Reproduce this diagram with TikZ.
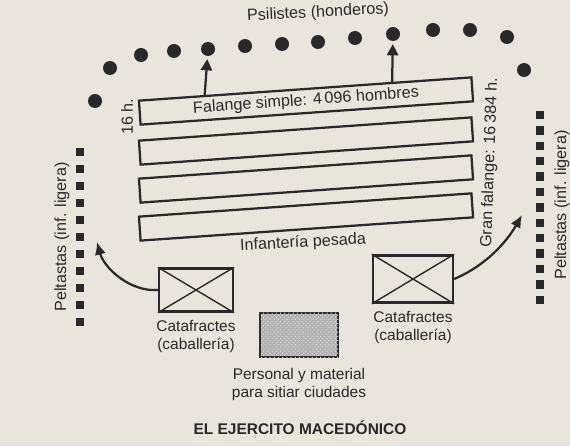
\documentclass[tikz,border=0pt]{standalone}
\usepackage{fontspec}
\setmainfont{Liberation Sans}
\usetikzlibrary{positioning,arrows.meta,calc,patterns}
\definecolor{paper}{RGB}{233,229,220}
\definecolor{ink}{RGB}{42,40,42}

\begin{document}
\begin{tikzpicture}[
    x=0.025cm, y=-0.025cm,
    every node/.style={text=ink, font=\fontsize{11.5}{13}\selectfont},
    slinger/.style={circle, fill=ink, inner sep=0pt, minimum size=0.35cm},
    peltast/.style={rectangle, fill=ink, inner sep=0pt, minimum size=0.21cm},
    bar/.style={draw=ink, line width=1.6pt, minimum width=8.33cm, minimum height=0.6cm, inner sep=0pt, rotate=4},
    cavalry/.style={draw=ink, line width=1.6pt, inner sep=0pt, minimum width=1.85cm, minimum height=1.08cm},
    siege/.style={draw=ink, line width=1.6pt, fill=gray!60, inner sep=0pt, minimum width=1.95cm, minimum height=1.1cm,
                  postaction={pattern=crosshatch dots, pattern color=gray!25}},
    caption/.style={align=center, inner sep=1pt, font=\fontsize{11}{13}\selectfont},
    up arrow/.style={draw=ink, line width=1.6pt, -{Triangle[length=8pt,width=8pt]}, shorten >=2pt},
    side arrow/.style={draw=ink, line width=1.6pt, -{Latex[length=9pt,width=8pt]}}
    ]
    \useasboundingbox[fill=paper] (0,0) rectangle (570,446);

    %% Psilistes (slingers)
    \node[rotate=3] (psi) at (318,13) {Psilistes (honderos)};
    \foreach \i/\x/\y in {1/95/101, 2/110/68, 3/141/55, 4/174/51, 5/208/49, 6/245/46, 7/282/44,
                          8/318/42, 9/355/38, 10/393/34, 11/433/30, 12/470/30, 13/507/37, 14/524/70}
        \node[slinger] (d\i) at (\x,\y) {};

    %% Heavy infantry: the phalanx
    \node[bar] (b1) at (306,101) {};
    \node[rotate=4] (fal) at (b1.center) {Falange simple: 4\,096 hombres};
    \node[bar] (b2) at (306,141) {};
    \node[bar] (b3) at (306,179) {};
    \node[bar] (b4) at (306,217) {};
    \node[rotate=3] (inf) at (303,243) {Infantería pesada};
    \node[rotate=90] (h16) at (127,117) {16 h.};
    \node[rotate=88] (gran) at (490,163) {Gran falange: 16\,384 h.};

    \draw[up arrow] ($(b1.north west)!.2!(b1.north east)$) -- (d5);
    \draw[up arrow] ($(b1.north west)!.76!(b1.north east)$) -- (d10);

    %% Peltasts on both wings
    \foreach \k in {0,...,10}
        \node[peltast] (pl\k) at (80,152+17*\k) {};
    \foreach \k in {0,...,12}
        \node[peltast] (pr\k) at (540,115+15.4*\k) {};
    \node[rotate=90] (pltxt) at (62,237) {Peltastas (inf. ligera)};
    \node[rotate=90] (prtxt) at (562,205) {Peltastas (inf. ligera)};

    %% Cavalry
    \node[cavalry] (cl) at (196,290) {};
    \draw[ink, line width=1pt] (cl.north west) -- (cl.south east) (cl.north east) -- (cl.south west);
    \node[caption, below=0.15cm of cl] (cltxt) {Catafractes\\(caballería)};

    \node[cavalry, minimum width=2cm, minimum height=1.18cm] (cr) at (413,279) {};
    \draw[ink, line width=1pt] (cr.north west) -- (cr.south east) (cr.north east) -- (cr.south west);
    \node[caption, below=0.15cm of cr] (crtxt) {Catafractes\\(caballería)};

    \coordinate (lt) at (97,242);
    \coordinate (rt) at (522,215);
    \draw[side arrow] (cl.west) .. controls (130,292) and (104,268) .. (lt);
    \draw[side arrow] (cr.east) .. controls (485,266) and (506,243) .. (rt);

    %% Siege train
    \node[siege] (sg) at (299,335) {};
    \node[caption, below=0.2cm of sg] (sgtxt) {Personal y material\\para sitiar ciudades};

    \node[font=\bfseries\fontsize{11}{13}\selectfont] (title) at (300,428) {EL EJERCITO MACEDÓNICO};
\end{tikzpicture}
\end{document}
